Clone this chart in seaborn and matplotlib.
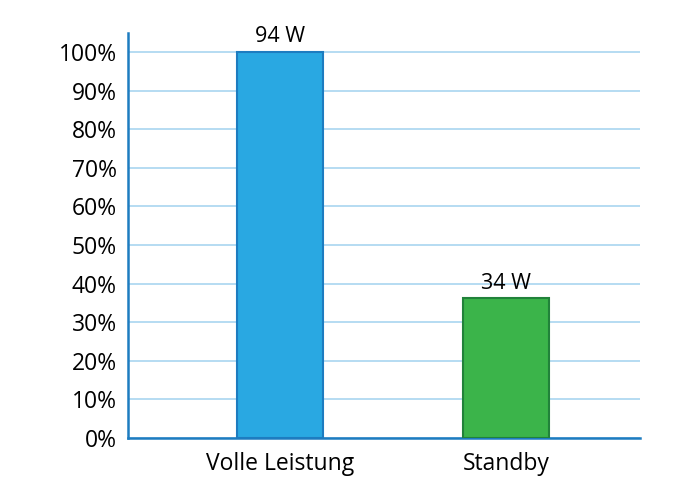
import pandas as pd
import seaborn as sns
from matplotlib import pyplot as plt
from matplotlib.ticker import PercentFormatter

# data
categories = ['Volle Leistung', 'Standby']
watts = [94, 34]
percent = [w / watts[0] * 100 for w in watts]
labels = ['94 W', '34 W']
colors = ['#29a8e2', '#3bb44a']
edges = ['#1d7cc0', '#21823a']

df = pd.DataFrame({'cat': categories, 'pct': percent})

sns.set_style('white')
plt.rcParams['font.family'] = ['Open Sans', 'DejaVu Sans']
plt.rcParams['text.color'] = 'black'
plt.rcParams['xtick.color'] = 'black'
plt.rcParams['ytick.color'] = 'black'

fig = plt.figure(figsize=(7, 5), dpi=100)
ax = fig.add_axes([0.183, 0.124, 0.731, 0.81])

sns.barplot(data=df, x='cat', y='pct', hue='cat', palette=colors,
            width=0.38, saturation=1, legend=False, ax=ax, zorder=3)
for patch, ec in zip(ax.patches, edges):
    patch.set_edgecolor(ec)
    patch.set_linewidth(1.5)

for i, (p, lab) in enumerate(zip(percent, labels)):
    ax.text(i, p + 1.2, lab, ha='center', va='bottom', fontsize=15.5, zorder=4)

ax.set_xlim(-0.673, 1.593)
ax.set_ylim(0, 104.9)
ax.set_yticks(range(0, 101, 10))
ax.yaxis.set_major_formatter(PercentFormatter(decimals=0))
ax.grid(axis='y', color='#a9d5f0', linewidth=1.2, zorder=0)
ax.set_xlabel('')
ax.set_ylabel('')
ax.tick_params(axis='both', length=0, labelsize=16.5, pad=8)
ax.tick_params(axis='x', pad=10)

for s in ['top', 'right']:
    ax.spines[s].set_visible(False)
for s in ['left', 'bottom']:
    ax.spines[s].set_color('#1d7cc0')
    ax.spines[s].set_linewidth(1.8)

plt.savefig('out.png', dpi=100)
